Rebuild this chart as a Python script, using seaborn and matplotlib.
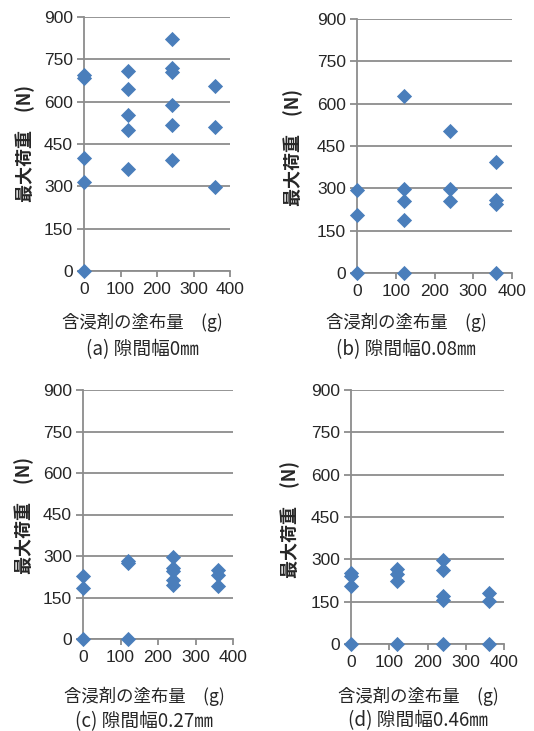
import matplotlib
matplotlib.use("Agg")
import matplotlib.pyplot as plt
import seaborn as sns
import pandas as pd

# Applied amount of impregnant (g) and maximum load (N) for each gap width
amount_a = [0, 0, 0, 0, 0, 120, 120, 120, 120, 120, 240, 240, 240, 240, 240, 240, 360, 360, 360]
load_a = [695, 685, 402, 316, 0, 707, 645, 551, 499, 363, 822, 718, 706, 588, 519, 393, 656, 511, 297]

amount_b = [0, 0, 0, 120, 120, 120, 120, 120, 240, 240, 240, 360, 360, 360, 360]
load_b = [294, 207, 0, 628, 297, 255, 187, 0, 503, 297, 255, 392, 258, 246, 0]

amount_c = [0, 0, 0, 120, 120, 120, 240, 240, 240, 240, 240, 360, 360, 360]
load_c = [226, 184, 0, 283, 274, 0, 295, 256, 244, 214, 194, 248, 232, 193]

amount_d = [0, 0, 0, 0, 120, 120, 120, 120, 240, 240, 240, 240, 240, 360, 360, 360]
load_d = [251, 240, 204, 0, 266, 248, 224, 0, 298, 263, 169, 157, 0, 180, 151, 0]

captions = ["(a) 隙間幅0㎜", "(b) 隙間幅0.08㎜", "(c) 隙間幅0.27㎜", "(d) 隙間幅0.46㎜"]
y_ticks = [0, 150, 300, 450, 600, 750, 900]
x_ticks = [0, 100, 200, 300, 400]
x_label = "含浸剤の塗布量　(g)"
y_label = "最大荷重　(N)"

sns.set_theme(style="white")
plt.rcParams["font.family"] = ["Liberation Sans", "Noto Sans CJK JP", "DejaVu Sans"]

GRID = "#8c8c8c"
TEXT = "#262626"
BLUE = "#4a7ebb"
CJK = ["Noto Sans CJK JP", "DejaVu Sans"]

fig = plt.figure(figsize=(5.34, 7.31), dpi=100)
W, H = 534, 731

# plot area (left, top, right, bottom) in pixels, then label anchors:
# x-label centre, x-label y, caption y, y-label x, y-label centre y
panels = [
    ((84, 17, 230, 271), 142, 322, 350, 25, 144),
    ((357, 19, 512, 273), 406, 322, 350, 293, 147),
    ((83, 390, 233, 639), 144, 696, 722, 24, 516),
    ((351, 390, 504, 644), 418, 696, 721, 290, 519),
]
datasets = [(amount_a, load_a), (amount_b, load_b), (amount_c, load_c), (amount_d, load_d)]

for (rect, xlx, xly, capy, ylx, yly), (xs, ys), cap in zip(panels, datasets, captions):
    l, t, r, b = rect
    ax = fig.add_axes([l / W, 1 - b / H, (r - l) / W, (b - t) / H])
    df = pd.DataFrame({"amount": xs, "load": ys})
    sns.scatterplot(data=df, x="amount", y="load", ax=ax, marker="D", s=60,
                    color=BLUE, linewidth=0, clip_on=False, zorder=5)
    ax.set_xlim(0, 400)
    ax.set_ylim(0, 900)
    ax.set_xticks(x_ticks)
    ax.set_yticks(y_ticks)
    ax.yaxis.grid(True, color=GRID, linewidth=1.3)
    ax.xaxis.grid(False)
    ax.set_axisbelow(True)
    for side in ["top", "right"]:
        ax.spines[side].set_visible(False)
    for side in ["left", "bottom"]:
        ax.spines[side].set_color(GRID)
        ax.spines[side].set_linewidth(1.3)
    ax.tick_params(axis="y", length=5, width=1.3, color=GRID, pad=3,
                   labelsize=12.5, labelcolor=TEXT, left=True)
    ax.tick_params(axis="x", length=4, width=1.3, color=GRID, pad=4,
                   labelsize=12.5, labelcolor=TEXT, bottom=True)
    ax.set_xlabel("")
    ax.set_ylabel("")

    fig.text(xlx / W, 1 - xly / H, x_label, ha="center", va="center",
             fontsize=12.5, color=TEXT, family=CJK)
    fig.text(xlx / W, 1 - capy / H, cap, ha="center", va="center",
             fontsize=13.5, color=TEXT, family=CJK)
    fig.text(ylx / W, 1 - yly / H, y_label, ha="center", va="center",
             rotation=90, fontsize=13, fontweight="bold", color=TEXT, family=CJK)

fig.savefig("out.png", dpi=100, facecolor="white")
